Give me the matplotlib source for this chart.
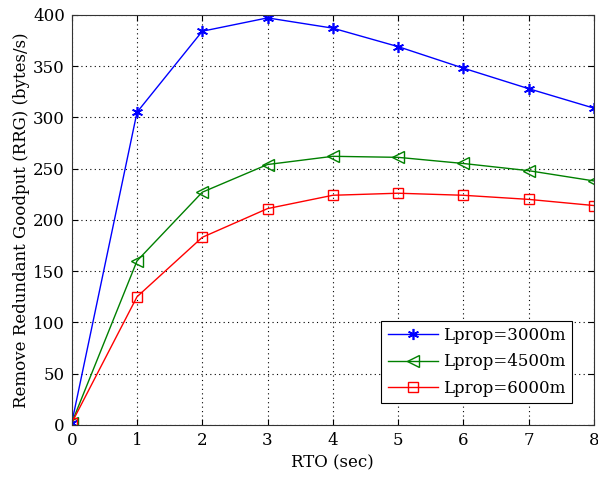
import numpy as np
import matplotlib
matplotlib.use("Agg")
import matplotlib.pyplot as plt

# Data
rto = [0, 1, 2, 3, 4, 5, 6, 7, 8]
rrg_3000 = [2, 305, 384, 397, 387, 369, 348, 328, 309]
rrg_4500 = [2, 160, 227, 254, 262, 261, 255, 248, 238]
rrg_6000 = [2, 125, 183, 211, 224, 226, 224, 220, 214]
labels = ["Lprop=3000m", "Lprop=4500m", "Lprop=6000m"]

plt.rcParams['font.family'] = ['DejaVu Serif']
plt.rcParams['font.size'] = 12

fig = plt.figure(figsize=(5.98, 4.78), dpi=100)
ax = fig.add_axes([0.120, 0.111, 0.873, 0.858])

ax.plot(rto, rrg_3000, color='blue', marker=(6, 2, 0), markersize=8, lw=1,
        mew=1.2, label=labels[0])
ax.plot(rto, rrg_4500, color='green', marker='<', markersize=8, lw=1,
        markerfacecolor='none', label=labels[1])
ax.plot(rto, rrg_6000, color='red', marker='s', markersize=7, lw=1,
        markerfacecolor='none', label=labels[2])

ax.set_xlim(0, 8)
ax.set_ylim(0, 400)
ax.set_xticks(range(0, 9))
ax.set_yticks(range(0, 401, 50))
ax.grid(True, linestyle=(0, (1, 3)), color='black', lw=0.8)
ax.tick_params(direction='in', top=True, right=True, length=4, pad=5)
for s in ax.spines.values():
    s.set_color('#333333')

ax.set_xlabel("RTO (sec)", labelpad=4)
ax.set_ylabel("Remove Redundant Goodput (RRG) (bytes/s)", labelpad=2)

leg = ax.legend(loc='lower right', fancybox=False, edgecolor='black',
                framealpha=1, handlelength=3, borderaxespad=1.3,
                labelspacing=0.55, handletextpad=0.3)
leg.get_frame().set_linewidth(0.8)

fig.savefig("out.png", dpi=100)
